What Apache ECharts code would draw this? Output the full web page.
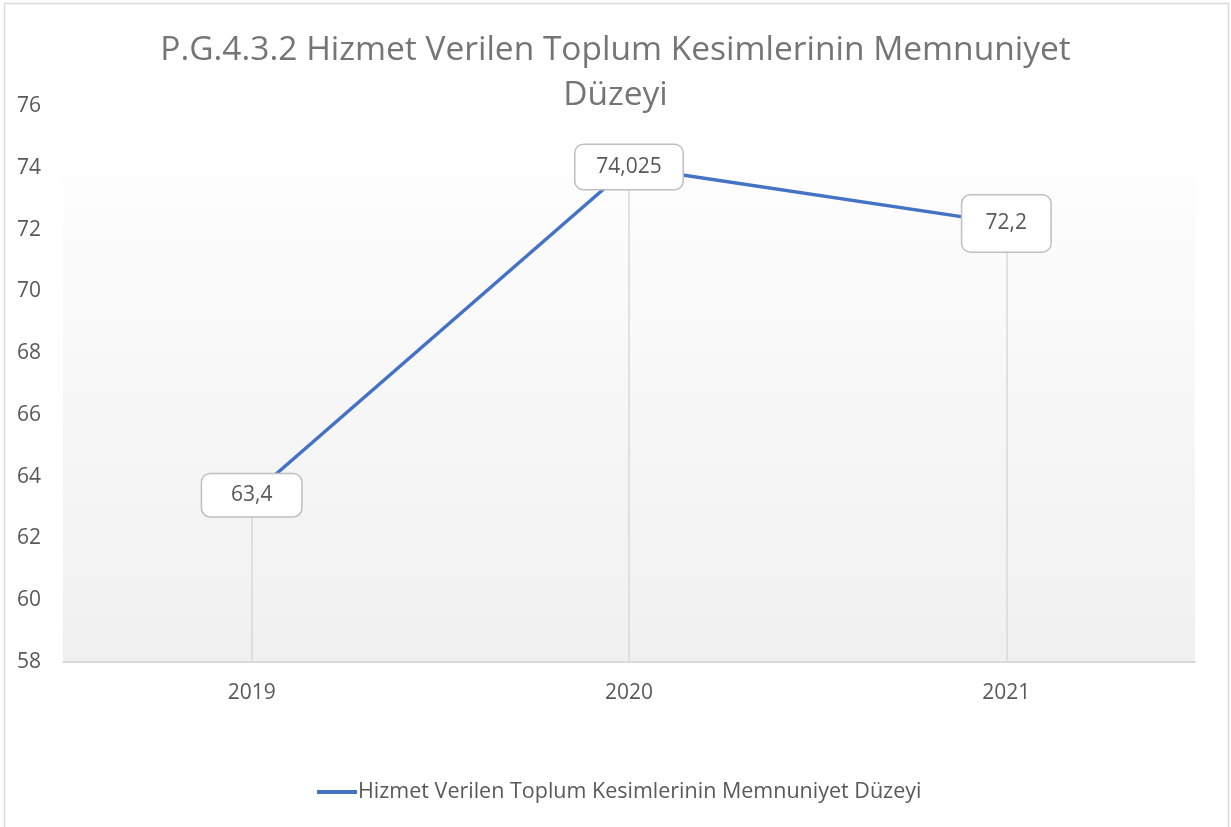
<!DOCTYPE html>
<html><head><meta charset="utf-8">
<script src="https://cdn.jsdelivr.net/npm/echarts@6/dist/echarts.min.js"></script>
<style>html,body{margin:0;padding:0;background:#fff}#c{width:1231px;height:827px}</style>
</head><body><div id="c"></div>
<script>
const titleText = 'P.G.4.3.2 Hizmet Verilen Toplum Kesimlerinin Memnuniyet\nDüzeyi';
const seriesName = 'Hizmet Verilen Toplum Kesimlerinin Memnuniyet Düzeyi';
const categories = ['2019', '2020', '2021'];
const values = [63.4, 74.025, 72.2];
const yMin = 58, yMax = 76, yStep = 2;

const FONT = '"Open Sans", sans-serif';
const labelBox = [{w: 101, h: 44}, {w: 109, h: 46}, {w: 90, h: 58}];
const fmt = v => String(v).replace('.', ',');

const chart = echarts.init(document.getElementById('c'));
chart.setOption({
  animation: false,
  backgroundColor: '#fff',
  textStyle: {fontFamily: FONT},
  title: {
    text: titleText, left: 'center', top: 23,
    textStyle: {fontFamily: FONT, fontSize: 33.5, fontWeight: 'normal', color: '#757575', lineHeight: 45}
  },
  legend: {
    bottom: 19, left: 312, itemWidth: 40, itemHeight: 4, itemGap: 3,
    textStyle: {fontFamily: FONT, fontSize: 21.5, color: '#595959', padding: [0, 0, 0, -4]},
    data: [{name: seriesName, icon: 'path://M0,0 L40,0 L40,4 L0,4 Z', itemStyle: {color: '#4472C4'}}]
  },
  grid: {
    left: 63, right: 36, top: 106, bottom: 165, containLabel: false,
    show: true, borderWidth: 0,
    backgroundColor: new echarts.graphic.LinearGradient(0, 0, 0, 1, [
      {offset: 0, color: '#ffffff'}, {offset: 0.123, color: '#ffffff'},
      {offset: 0.125, color: '#fdfdfd'}, {offset: 1, color: '#f0f0f0'}
    ])
  },
  xAxis: {
    type: 'category', data: categories, boundaryGap: true,
    axisLine: {lineStyle: {color: '#d9d9d9', width: 2}},
    axisTick: {show: false},
    axisLabel: {fontFamily: FONT, fontSize: 21, color: '#595959', margin: 21}
  },
  yAxis: {
    type: 'value', min: yMin, max: yMax, interval: yStep,
    axisLine: {show: false}, axisTick: {show: false}, splitLine: {show: false},
    axisLabel: {fontFamily: FONT, fontSize: 21, color: '#595959', margin: 0, align: 'left',
      padding: [0, 0, 0, -46]}
  },
  graphic: [{
    type: 'rect', shape: {x: 4.5, y: 3.5, width: 1224, height: 830},
    style: {fill: 'none', stroke: '#d9d9d9', lineWidth: 1.5}, z: 100, silent: true
  }],
  series: [{
    name: seriesName, type: 'line',
    data: values.map((v, i) => ({
      value: v,
      label: {width: labelBox[i].w - 2, height: labelBox[i].h - 2}
    })),
    symbol: 'circle', symbolSize: 1,
    itemStyle: {color: '#4472C4'},
    lineStyle: {color: '#4472C4', width: 3.5, cap: 'round'},
    z: 5,
    label: {
      show: true, position: 'inside', formatter: p => fmt(p.value),
      fontFamily: FONT, fontSize: 21, color: '#595959',
      backgroundColor: '#fff', borderColor: '#bfbfbf', borderWidth: 1.5, borderRadius: 8,
      align: 'center', verticalAlign: 'middle', lineHeight: 24
    },
    markLine: {
      silent: true, symbol: 'none', z: 1,
      lineStyle: {color: '#d9d9d9', width: 1.5, type: 'solid'},
      label: {show: false},
      data: values.map((v, i) => [{coord: [i, v]}, {coord: [i, yMin]}])
    }
  }]
});
</script></body></html>
